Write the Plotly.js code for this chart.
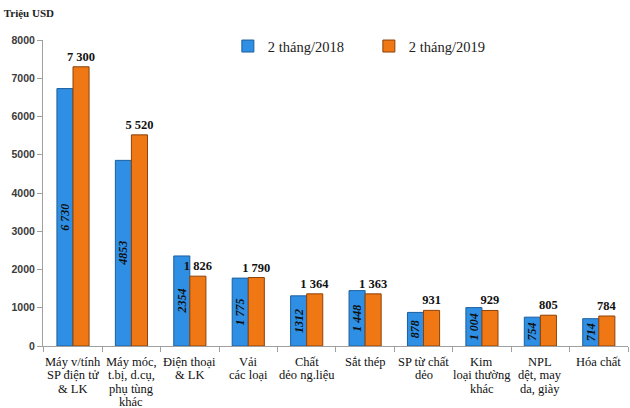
<!DOCTYPE html>
<html>
<head>
<meta charset="utf-8">
<script src="https://cdn.plot.ly/plotly-3.0.1.min.js"></script>
<style>html,body{margin:0;padding:0;background:#fff;}#chart{width:630px;height:408px;}</style>
</head>
<body>
<div id="chart"></div>
<script>
var categories = [
  "Máy v/tính<br>SP điện tử<br>& LK",
  "Máy móc,<br>t.bị, d.cụ,<br>phụ tùng<br>khác",
  "Điện thoại<br>& LK",
  "Vải<br>các loại",
  "Chất<br>dẻo ng.liệu",
  "Sắt thép",
  "SP từ chất<br>dẻo",
  "Kim<br>loại thường<br>khác",
  "NPL<br>dệt, may<br>da, giày",
  "Hóa chất"
];
var values2018 = [6730, 4853, 2354, 1775, 1312, 1448, 878, 1004, 754, 714];
var values2019 = [7300, 5520, 1826, 1790, 1364, 1363, 931, 929, 805, 784];
var labels2018 = ["6 730", "4853", "2354", "1 775", "1312", "1 448", "878", "1 004", "754", "714"];
var labels2019 = ["7 300", "5 520", "1 826", "1 790", "1 364", "1 363", "931", "929", "805", "784"];
var seriesNames = ["2 tháng/2018", "2 tháng/2019"];
var yTicks = [0, 1000, 2000, 3000, 4000, 5000, 6000, 7000, 8000];

var serif = "'Times New Roman', 'Liberation Serif', 'DejaVu Serif', serif";

var traces = [
  {
    type: "bar", name: seriesNames[0], x: categories, y: values2018,
    text: labels2018, textposition: "inside", insidetextanchor: "middle",
    textangle: -90, constraintext: "none",
    textfont: {family: serif, size: 12, color: "#111", weight: "bold", style: "italic"},
    marker: {color: "#2f8fe4", line: {color: "#1c5f9e", width: 1}},
    hoverinfo: "none"
  },
  {
    type: "bar", name: seriesNames[1], x: categories, y: values2019,
    text: labels2019, textposition: "outside", textangle: 0, constraintext: "none",
    textfont: {family: serif, size: 12.5, color: "#111", weight: "bold"},
    marker: {color: "#f07814", line: {color: "#8c4208", width: 1}},
    cliponaxis: false,
    hoverinfo: "none"
  }
];

// category labels drawn line by line for tight line spacing
var annotations = [];
categories.forEach(function (cat, i) {
  cat.split("<br>").forEach(function (line, j) {
    annotations.push({
      x: cat, xref: "x", y: 0, yref: "paper", yanchor: "top", xanchor: "center",
      yshift: -7 - j * 13.3, text: line, showarrow: false,
      font: {family: serif, size: 12.5, color: "#111"}
    });
  });
});

var layout = {
  width: 630, height: 408,
  margin: {l: 43, r: 2, t: 40, b: 62},
  paper_bgcolor: "#fff", plot_bgcolor: "#fff",
  barmode: "group", bargap: 0.45, bargroupgap: 0,
  showlegend: true,
  title: {
    text: "<b>Triệu USD</b>", x: 0.006, xanchor: "left", xref: "container",
    y: 0.968, yanchor: "middle", yref: "container",
    font: {family: serif, size: 11, color: "#222"}
  },
  legend: {
    orientation: "h", x: 0.316, xanchor: "left", y: 0.98, yanchor: "middle",
    font: {family: serif, size: 14.5, color: "#222"},
    bgcolor: "rgba(0,0,0,0)", entrywidth: 96, traceorder: "normal"
  },
  annotations: annotations,
  xaxis: {
    type: "category", showline: true, linecolor: "#a0a0a0", linewidth: 1,
    ticks: "outside", tickson: "boundaries", ticklen: 5, tickcolor: "#a0a0a0",
    showticklabels: false, showgrid: false, zeroline: false
  },
  yaxis: {
    range: [0, 8000], tickvals: yTicks, showline: true, linecolor: "#a0a0a0", linewidth: 1,
    ticks: "outside", ticklen: 5, tickcolor: "#a0a0a0", showgrid: false, zeroline: false,
    tickfont: {family: "'Liberation Sans', Arial, sans-serif", size: 10.5, color: "#3a3a3a", weight: "bold"}
  }
};

Plotly.newPlot("chart", traces, layout, {displayModeBar: false, staticPlot: true});
</script>
</body>
</html>
